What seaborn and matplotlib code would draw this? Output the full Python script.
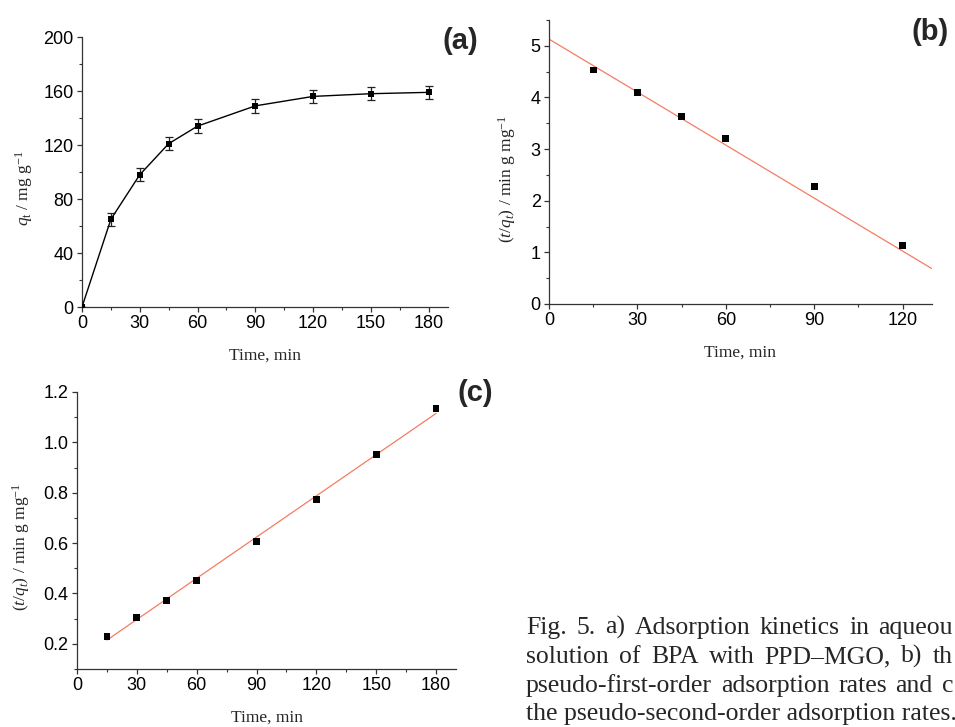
import numpy as np
import pandas as pd
import matplotlib
matplotlib.use("Agg")
import matplotlib.pyplot as plt
import seaborn as sns
from matplotlib.ticker import MultipleLocator

# ---------------- data ----------------
time_a = [0, 15, 30, 45, 60, 90, 120, 150, 180]
qt_a = [0, 65, 98, 121, 134, 149, 156, 158, 159]
err_a = [0, 5, 5, 5, 5, 5, 5, 5, 5]

time_b = [15, 30, 45, 60, 90, 120]
val_b = [4.53, 4.10, 3.63, 3.21, 2.28, 1.13]
fit_b_intercept, fit_b_slope = 5.13, -0.0342
fit_b_range = [0, 130]

time_c = [15, 30, 45, 60, 90, 120, 150, 180]
val_c = [0.228, 0.305, 0.373, 0.450, 0.605, 0.772, 0.952, 1.135]
fit_c_intercept, fit_c_slope = 0.133, 0.005455
fit_c_range = [15, 180]

# caption as visible in the (cropped) reference
caption_lines = [
    "Fig. 5. a) Adsorption kinetics in aqueou",
    "solution of BPA with PPD\u2013MGO, b) th",
    "pseudo-first-order adsorption rates and c",
    "the pseudo-second-order adsorption rates.",
]

# ---------------- style ----------------
sns.set_style("ticks")
plt.rcParams["font.family"] = ["Liberation Sans", "DejaVu Sans"]
plt.rcParams["mathtext.fontset"] = "custom"
plt.rcParams["mathtext.rm"] = "Liberation Serif"
plt.rcParams["mathtext.it"] = "Liberation Serif:italic"
plt.rcParams["mathtext.bf"] = "Liberation Serif:bold"

W, H = 955, 727
fig = plt.figure(figsize=(W / 100, H / 100), dpi=100)

def ax_rect(l, r, t, b):
    return [l / W, 1 - b / H, (r - l) / W, (b - t) / H]

ax_a = fig.add_axes(ax_rect(82, 448, 37, 307))
ax_b = fig.add_axes(ax_rect(549, 932, 20, 304))
ax_c = fig.add_axes(ax_rect(77, 456, 392, 669))

spine_col = "#333333"
serif = ["Liberation Serif", "DejaVu Serif"]
line_red = "#f47c62"

def style_axis(ax, xmaj, xmin, ymaj, ymin):
    sns.despine(ax=ax)
    for s in ("left", "bottom"):
        ax.spines[s].set_color(spine_col)
        ax.spines[s].set_linewidth(0.9)
    ax.xaxis.set_major_locator(MultipleLocator(xmaj))
    ax.xaxis.set_minor_locator(MultipleLocator(xmin))
    ax.yaxis.set_major_locator(MultipleLocator(ymaj))
    ax.yaxis.set_minor_locator(MultipleLocator(ymin))
    ax.tick_params(which="major", direction="out", length=3.5, width=0.9,
                   color=spine_col, labelsize=13, pad=2.5, labelcolor="black")
    ax.tick_params(which="minor", direction="out", length=2.2, width=0.8,
                   color=spine_col)

# ---------------- panel (a) ----------------
df_a = pd.DataFrame({"t": time_a, "q": qt_a})
ax_a.errorbar(time_a, qt_a, yerr=err_a, fmt="none", ecolor="#222222",
              elinewidth=0.9, capsize=3.2, capthick=0.9, zorder=2)
sns.lineplot(data=df_a, x="t", y="q", ax=ax_a, color="black", linewidth=1.0,
             marker="s", markersize=5, markeredgewidth=0, zorder=3)
ax_a.set_xlim(0, 190)
ax_a.set_ylim(0, 200)
style_axis(ax_a, 30, 15, 40, 20)
ax_a.set_xlabel("Time, min", family=serif, fontsize=12.5, va="top")
ax_a.set_ylabel(r"$q_{\mathrm{t}}$ / mg g$^{\mathrm{-1}}$", family=serif, fontsize=12.5)
ax_a.xaxis.set_label_coords(0.5, -0.152)
ax_a.yaxis.set_label_coords(-0.128, 0.44)

# ---------------- panel (b) ----------------
df_b = pd.DataFrame({"t": time_b, "v": val_b})
fx_b = np.array(fit_b_range, dtype=float)
df_bf = pd.DataFrame({"t": fx_b, "v": fit_b_intercept + fit_b_slope * fx_b})
sns.lineplot(data=df_bf, x="t", y="v", ax=ax_b, color=line_red, linewidth=0.9, zorder=2)
sns.scatterplot(data=df_b, x="t", y="v", ax=ax_b, marker="s", s=24, color="black",
                edgecolor="none", zorder=3)
ax_b.set_xlim(0, 130)
ax_b.set_ylim(0, 5.5)
style_axis(ax_b, 30, 15, 1, 0.5)
ax_b.set_xlabel("Time, min", family=serif, fontsize=12.5, va="top")
ax_b.set_ylabel(r"$(t/q_{t})$ / min g mg$^{\mathrm{-1}}$", family=serif, fontsize=12.5)
ax_b.xaxis.set_label_coords(0.5, -0.144)
ax_b.yaxis.set_label_coords(-0.081, 0.44)

# ---------------- panel (c) ----------------
df_c = pd.DataFrame({"t": time_c, "v": val_c})
fx_c = np.array(fit_c_range, dtype=float)
df_cf = pd.DataFrame({"t": fx_c, "v": fit_c_intercept + fit_c_slope * fx_c})
sns.lineplot(data=df_cf, x="t", y="v", ax=ax_c, color=line_red, linewidth=0.9, zorder=2)
sns.scatterplot(data=df_c, x="t", y="v", ax=ax_c, marker="s", s=24, color="black",
                edgecolor="none", zorder=3)
ax_c.set_xlim(0, 190)
ax_c.set_ylim(0.1, 1.2)
style_axis(ax_c, 30, 15, 0.2, 0.1)
ax_c.yaxis.set_major_formatter(matplotlib.ticker.FormatStrFormatter("%.1f"))
ax_c.set_xlabel("Time, min", family=serif, fontsize=12.5, va="top")
ax_c.set_ylabel(r"$(t/q_{t})$ / min g mg$^{\mathrm{-1}}$", family=serif, fontsize=12.5)
ax_c.xaxis.set_label_coords(0.5, -0.148)
ax_c.yaxis.set_label_coords(-0.119, 0.44)

for ax in (ax_a, ax_b, ax_c):
    ax.set_facecolor("white")

# ---------------- panel letters ----------------
fig.text(442 / W, 1 - 41 / H, "(a)", fontsize=21, fontweight="bold", ha="left", va="center")
fig.text(911 / W, 1 - 32 / H, "(b)", fontsize=21, fontweight="bold", ha="left", va="center")
fig.text(457 / W, 1 - 393 / H, "(c)", fontsize=21, fontweight="bold", ha="left", va="center")

# ---------------- caption (justified) ----------------
cap_left = 526
cap_right = 953
baselines = [634, 663, 692, 720]
renderer = fig.canvas.get_renderer()
for i, (line, base) in enumerate(zip(caption_lines, baselines)):
    if i == len(caption_lines) - 1:
        fig.text(cap_left / W, 1 - base / H, line, family=serif, fontsize=18.5,
                 ha="left", va="baseline")
        continue
    words = line.split(" ")
    texts = [fig.text(0, 0, w, family=serif, fontsize=18.5, ha="left", va="baseline")
             for w in words]
    widths = [t.get_window_extent(renderer).width for t in texts]
    gap = (cap_right - cap_left - sum(widths)) / (len(words) - 1)
    x = cap_left
    for t, w in zip(texts, widths):
        t.set_position((x / W, 1 - base / H))
        x += w + gap

fig.savefig("out.png", dpi=100, facecolor="white")
